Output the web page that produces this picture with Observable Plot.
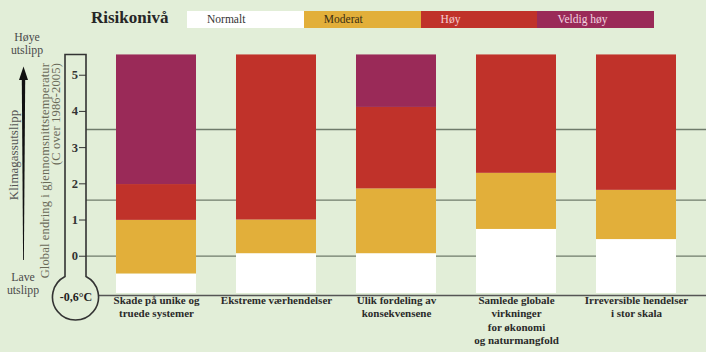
<!DOCTYPE html>
<html><head><meta charset="utf-8">
<script src="https://cdn.jsdelivr.net/npm/d3@7"></script>
<script src="https://cdn.jsdelivr.net/npm/@observablehq/plot@0.6"></script>
<style>
html,body{margin:0;padding:0;}
body{background:#e2eed8;width:706px;height:352px;overflow:hidden;font-family:"Liberation Serif",serif;}
#legend{position:relative;height:30px;width:706px;}
#legend .title{position:absolute;left:91px;top:8px;font-size:17px;font-weight:bold;color:#262626;line-height:20px;}
#legend .box{position:absolute;top:11px;height:16.5px;width:117px;font-size:11.5px;line-height:16.5px;box-sizing:border-box;padding-left:20px;}
#chart svg{display:block;overflow:visible;}
</style></head><body>
<div id="legend"></div>
<div id="chart"></div>
<script>
// ---- data ----
const legendTitle = "Risikonivå";
const levels = ["Normalt", "Moderat", "Høy", "Veldig høy"];
const levelColors = ["#ffffff", "#e2af3a", "#c0322a", "#9a2a58"];
const levelTextColors = ["#333333", "#3a2e12", "#f6cdd2", "#f3d3e0"];
const categories = [
  "Skade på unike og\ntruede systemer",
  "Ekstreme værhendelser",
  "Ulik fordeling av\nkonsekvensene",
  "Samlede globale\nvirkninger\nfor økonomi\nog naturmangfold",
  "Irreversible hendelser\ni stor skala"
];
const barBottom = -1.03;
const barTop = 5.56;
const moderatStart = [-0.49, 0.07, 0.07, 0.74, 0.46];
const hoyStart = [0.99, 1.0, 1.86, 2.29, 1.82];
const veldigHoyStart = [1.98, null, 4.11, null, null];
const tickValues = [0, 1, 2, 3, 4, 5];
const referenceLines = [0, 1.55, 3.5];
const yDomain = [-1.085, 5.6];
const preindustrialLabel = "-0,6°C";
const highEmissions = ["Høye", "utslipp"];
const lowEmissions = ["Lave", "utslipp"];
const emissionsLabel = "Klimagassutslipp";
const yTitleLines = ["Global endring i gjennomsnittstemperatur", "(C over 1986-2005)"];

// ---- legend (HTML) ----
const bg = "#e2eed8";
const legend = document.getElementById("legend");
const t = document.createElement("div");
t.className = "title"; t.textContent = legendTitle; legend.appendChild(t);
levels.forEach((lv, k) => {
  const b = document.createElement("div");
  b.className = "box";
  b.style.left = (187 + k * 116.8) + "px";
  b.style.background = levelColors[k];
  b.style.color = levelTextColors[k];
  b.textContent = lv;
  legend.appendChild(b);
});

// ---- segments ----
const segments = [];
categories.forEach((c, i) => {
  const b = [barBottom, moderatStart[i], hoyStart[i], veldigHoyStart[i] ?? barTop, barTop];
  levels.forEach((lv, k) => {
    if (b[k + 1] > b[k]) segments.push({category: c, level: lv, y1: b[k], y2: b[k + 1]});
  });
});

const serif = "Liberation Serif, serif";

function thermometer(index, scales, values, dimensions) {
  const y = scales.y;
  const g = d3.create("svg:g");
  const xR = dimensions.marginLeft, xL = xR - 21;
  const cx = (xL + xR) / 2, r = 23, cy = y(yDomain[0]) + 2;
  const top = y(barTop);
  const dx = cx - xL, dyc = Math.sqrt(r * r - dx * dx);
  g.append("path")
    .attr("d", `M${xL},${top}V${cy - dyc}A${r},${r} 0 1 0 ${xR},${cy - dyc}V${top}Z`)
    .attr("fill", bg).attr("stroke", "#333").attr("stroke-width", 1.6);
  g.append("text").attr("x", cx + 0.5).attr("y", cy).attr("dy", "0.35em")
    .attr("text-anchor", "middle").attr("font-family", serif).attr("font-weight", "bold")
    .attr("font-size", 12).attr("fill", "#222").text(preindustrialLabel);
  return g.node();
}

function sideDecor(index, scales, values, dimensions) {
  const g = d3.create("svg:g").attr("font-family", serif);
  // arrow
  const ax = 23.5, tip = 36.5, headB = 50, bottom = 230;
  g.append("path").attr("d", `M${ax},${tip}L${ax - 4.5},${headB}L${ax + 4.5},${headB}Z`).attr("fill", "#111");
  g.append("path").attr("d", `M${ax - 1.7},${headB - 1}L${ax + 1.7},${headB - 1}L${ax + 0.4},${bottom}L${ax - 0.4},${bottom}Z`).attr("fill", "#111");
  highEmissions.forEach((s, i) => g.append("text").attr("x", 27).attr("y", 7 + i * 13.3).attr("dy", "0.35em")
    .attr("text-anchor", "middle").attr("font-size", 11.8).attr("fill", "#4a4a4a").text(s));
  lowEmissions.forEach((s, i) => g.append("text").attr("x", 23).attr("y", 246.5 + i * 13.3).attr("dy", "0.35em")
    .attr("text-anchor", "middle").attr("font-size", 11.8).attr("fill", "#4a4a4a").text(s));
  g.append("text").attr("transform", "translate(13,125) rotate(-90)").attr("dy", "0.35em")
    .attr("text-anchor", "middle").attr("font-size", 13).attr("fill", "#555").text(emissionsLabel);
  yTitleLines.forEach((s, i) => g.append("text").attr("transform", `translate(${44.5 + i * 11},33) rotate(-90)`)
    .attr("dy", "0.35em").attr("text-anchor", "end").attr("font-size", 12.5)
    .attr("letter-spacing", 0.15).attr("fill", "#6a6a58").text(s));
  return g.node();
}

const chart = Plot.plot({
  width: 706, height: 322,
  marginLeft: 86, marginRight: 0, marginTop: 23, marginBottom: 57,
  style: {background: "transparent", fontFamily: serif, overflow: "visible"},
  x: {domain: categories, paddingInner: 0.33, paddingOuter: 0.231, axis: null},
  y: {domain: yDomain, axis: null},
  color: {domain: levels, range: levelColors},
  marks: [
    Plot.ruleY(referenceLines, {stroke: "#6f7b6b", strokeWidth: 1.3}),
    Plot.ruleY([yDomain[0]], {stroke: "#555", strokeWidth: 1.3}),
    Plot.barY(segments, {x: "category", y1: "y1", y2: "y2", fill: "level"}),
    thermometer,
    Plot.axisY({ticks: tickValues, tickFormat: "d", anchor: "left", tickSize: 7, tickPadding: 1.5, fontSize: 12.5, fontWeight: "bold", color: "#333", label: null}),
    Plot.text(categories, {x: d => d, frameAnchor: "bottom", text: d => d, lineAnchor: "top", dy: -1, fontSize: 11, fontWeight: "bold", lineHeight: 1.22, fill: "#2a2a2a"}),
    sideDecor
  ]
});
document.getElementById("chart").appendChild(chart);
</script>
</body></html>
